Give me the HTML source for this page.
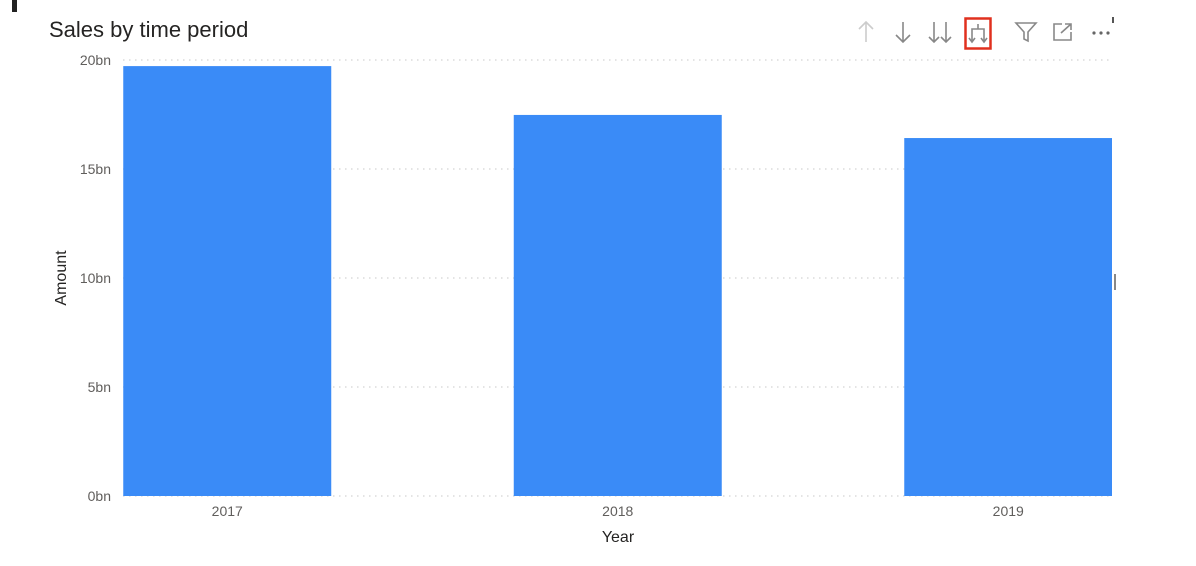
<!DOCTYPE html>
<html><head><meta charset="utf-8"><style>
body{margin:0;background:#fff;width:1196px;height:566px;overflow:hidden;font-family:"Liberation Sans",sans-serif;}
</style></head><body>
<svg width="1196" height="566" style="position:absolute;left:0;top:0">
<rect x="12" y="0" width="5" height="12" fill="#222"/>
<text x="49" y="37" font-size="22" fill="#252423">Sales by time period</text>
<g stroke-width="1.6" fill="none">
<g stroke="#ccc"><path d="M866 22V42M859 29L866 22L873 29"/></g>
<g stroke="#888"><path d="M903 22V42M896 35L903 42L910 35"/></g>
<g stroke="#888"><path d="M934 22V42M946 22V42M929 37L934 42L939 37M941 37L946 42L951 37"/></g>
<rect x="965.5" y="18.5" width="25" height="30" stroke="#e0301e" stroke-width="2.5"/>
<g stroke="#888"><path d="M978 24V29M972 42V29H984V42M969 38L972 42L975 38M981 38L984 42L987 38"/></g>
<g stroke="#888"><path d="M1016 23H1036L1028 32V41L1024 39V32Z"/></g>
<g stroke="#888"><path d="M1062 24H1054V40H1071V32M1061 33L1071 24M1065 24H1071V30"/></g>
<g fill="#666"><circle cx="1094" cy="33" r="1.6"/><circle cx="1101" cy="33" r="1.6"/><circle cx="1108" cy="33" r="1.6"/></g>
<rect x="1112" y="17" width="2" height="6" fill="#555" stroke="none"/>
</g>
<g id="grid"></g><g id="bars"></g><g id="axes"></g>
<text transform="translate(66,278) rotate(-90)" text-anchor="middle" font-size="16" fill="#252423">Amount</text>
<text x="618" y="542" text-anchor="middle" font-size="16" fill="#252423">Year</text>
<rect x="1114" y="274" width="2" height="16" fill="#888"/>
</svg>
<script>
const categories=["2017","2018","2019"];
const values=[19.72,17.48,16.42];
const yTicks=[0,5,10,15,20];
const yTickLabels=["0bn","5bn","10bn","15bn","20bn"];
const NS="http://www.w3.org/2000/svg";
const y0=496,y1=60,yMax=20;
function y(v){return y0-(v/yMax)*(y0-y1);}
const bandStart=32,band=390.5,barW=208;
function xc(i){return bandStart+band*(i+0.5);}
function mk(t,a,p){const e=document.createElementNS(NS,t);for(const k in a)e.setAttribute(k,a[k]);p.appendChild(e);return e;}
const g=document.getElementById('grid'),b=document.getElementById('bars'),ax=document.getElementById('axes');
yTicks.forEach((v,i)=>{
 const l=mk('line',{x1:123,x2:1110,y1:y(v),y2:y(v),stroke:'#c8c8c8','stroke-dasharray':'1.5 4.5'},g);
 
 
 const t=mk('text',{x:111,y:y(v)+5,'text-anchor':'end','font-size':'14',fill:'#605e5c'},ax);
 t.textContent=yTickLabels[i];
 
 
});
categories.forEach((c,i)=>{
 const r=mk('rect',{x:xc(i)-barW/2,y:y(values[i]),width:Math.min(barW,1112-(xc(i)-barW/2)),height:y0-y(values[i]),fill:'#3a8bf7'},b);
 
 
 const t=mk('text',{x:xc(i),y:516,'text-anchor':'middle','font-size':'14',fill:'#605e5c'},ax);
 t.textContent=c;
 
 
});
</script>
</body></html>
